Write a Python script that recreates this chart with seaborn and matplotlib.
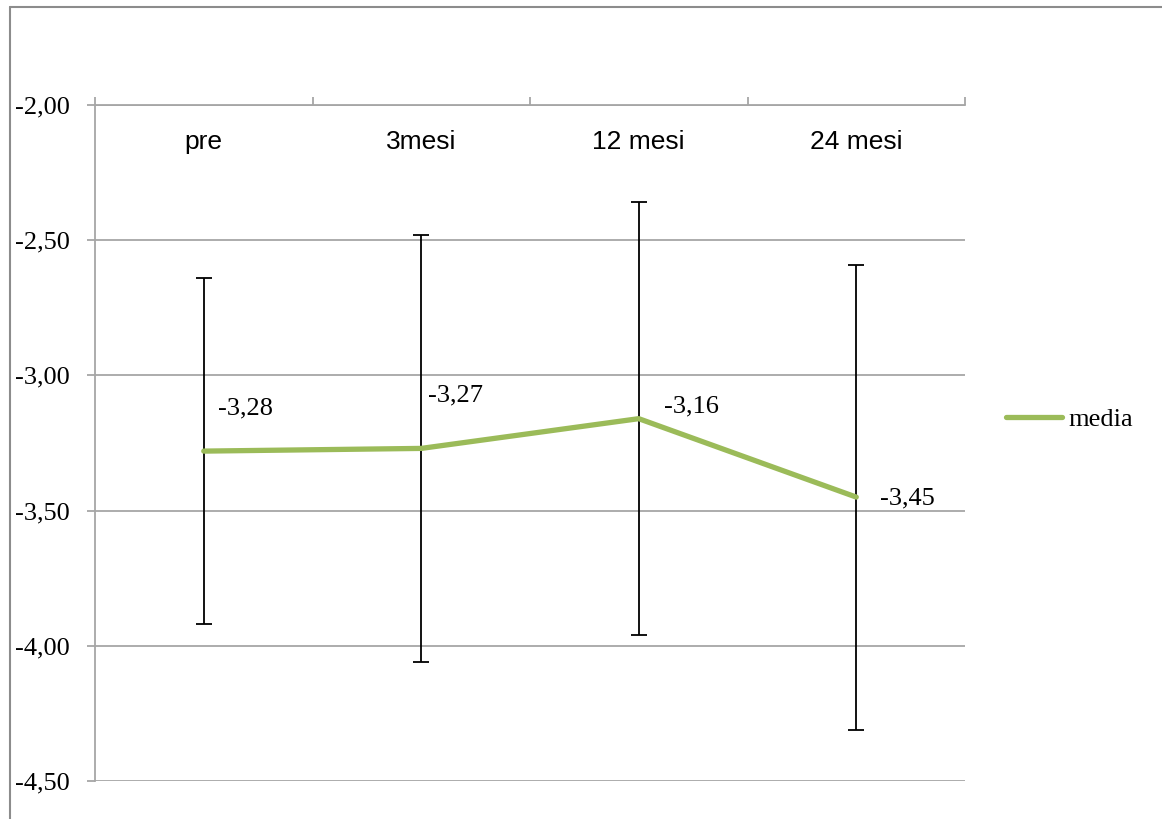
import matplotlib
matplotlib.use("Agg")
import matplotlib.pyplot as plt
from matplotlib.lines import Line2D
from matplotlib.ticker import FuncFormatter, FixedLocator
import seaborn as sns
import pandas as pd

# ---- data ----
categories = ["pre", "3mesi", "12 mesi", "24 mesi"]
media = [-3.28, -3.27, -3.16, -3.45]
errors = [0.64, 0.79, 0.80, 0.86]
value_labels = ["-3,28", "-3,27", "-3,16", "-3,45"]
y_ticks = [-4.5, -4.0, -3.5, -3.0, -2.5, -2.0]

df = pd.DataFrame({"periodo": categories, "media": media, "err": errors})

sns.set_theme(style="white")
plt.rcParams["font.family"] = ["Liberation Serif", "DejaVu Serif"]
plt.rcParams["text.color"] = "black"

W, H = 1162, 819
fig = plt.figure(figsize=(W / 100, H / 100), dpi=100)
ax = fig.add_axes([95 / W, 1 - 781 / H, 870 / W, 676 / H])

green = "#9BBB59"
grid_c = "#A6A6A6"
FS = 19

# error bars
ax.errorbar(range(len(categories)), df["media"], yerr=df["err"], fmt="none",
            ecolor="black", elinewidth=1.3, capsize=6, capthick=1.3, zorder=3)

# line
sns.lineplot(data=df, x="periodo", y="media", ax=ax, color=green, linewidth=3.8,
             sort=False, label="media", zorder=4)

# data labels (offsets in points)
offsets = [(10, 31), (5, 38), (18, 9), (17, -1)]
for i, (lab, off) in enumerate(zip(value_labels, offsets)):
    ax.annotate(lab, (i, media[i]), xytext=off, textcoords="offset points",
                ha="left", va="center", fontsize=FS, color="black")

ax.set_xlim(-0.5, len(categories) - 0.5)
ax.set_ylim(-4.5, -2.0)
ax.yaxis.set_major_locator(FixedLocator(y_ticks))
ax.yaxis.set_major_formatter(FuncFormatter(lambda v, p: f"{v:.2f}".replace(".", ",")))
ax.grid(axis="y", color=grid_c, linewidth=1.3)
ax.set_axisbelow(True)

# x axis at top: boundary ticks (major) and labels (minor)
ax.xaxis.tick_top()
ax.set_xticks([i - 0.5 for i in range(len(categories) + 1)])
ax.set_xticklabels([])
ax.set_xticks(range(len(categories)), minor=True)
ax.set_xticklabels(categories, minor=True, fontsize=FS,
                   fontfamily=["Liberation Sans", "DejaVu Sans"])
ax.tick_params(axis="x", which="major", top=True, bottom=False, length=6,
               width=1.3, color=grid_c, direction="out")
ax.tick_params(axis="x", which="minor", top=True, bottom=False, labeltop=True,
               labelbottom=False, length=0, pad=-35, labelcolor="black")
ax.tick_params(axis="y", left=True, length=6, width=1.3, color=grid_c,
               labelsize=FS, pad=12, labelcolor="black")
ax.set_xlabel("")
ax.set_ylabel("")

for s in ["right", "bottom"]:
    ax.spines[s].set_visible(False)
for s in ["top", "left"]:
    ax.spines[s].set_color(grid_c)
    ax.spines[s].set_linewidth(1.3)

leg = ax.legend(loc="center left", bbox_to_anchor=(1.02, 0.535), frameon=False,
                fontsize=FS, handlelength=2.1, handletextpad=0.25)
for t in leg.get_texts():
    t.set_color("black")

# outer chart border (left and top only visible)
fig.add_artist(Line2D([10 / W, 10 / W], [0, 1 - 7 / H], transform=fig.transFigure,
                      color="#8C8C8C", linewidth=1.5))
fig.add_artist(Line2D([10 / W, 1], [1 - 7 / H, 1 - 7 / H], transform=fig.transFigure,
                      color="#8C8C8C", linewidth=1.5))

fig.savefig("out.png", dpi=100, facecolor="white")
